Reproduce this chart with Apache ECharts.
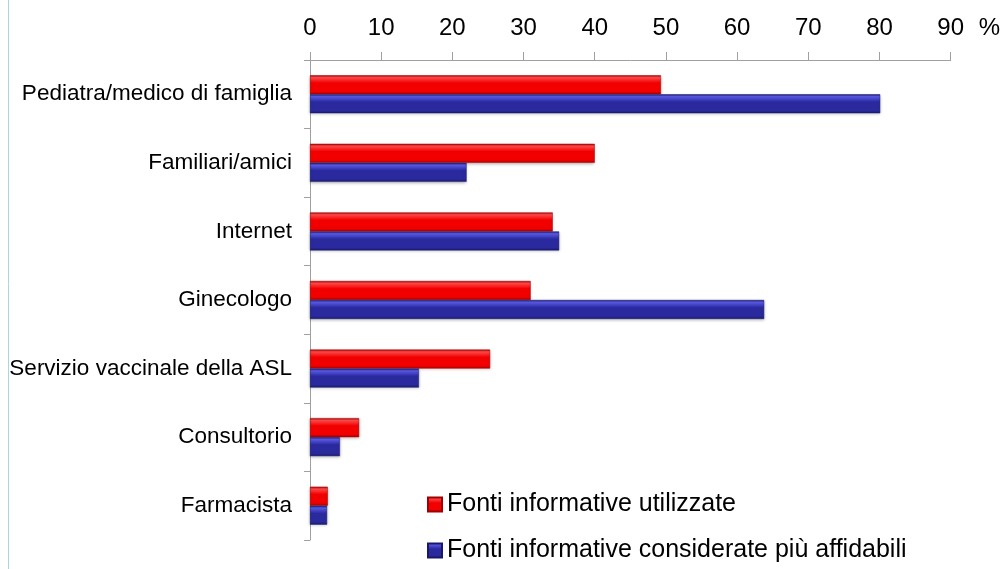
<!DOCTYPE html>
<html>
<head>
<meta charset="utf-8">
<script src="https://cdn.jsdelivr.net/npm/echarts@6/dist/echarts.min.js"></script>
<style>
  html, body { margin: 0; padding: 0; background: #fff; }
  #chart { width: 1003px; height: 569px; }
</style>
</head>
<body>
<div id="chart"></div>
<script>
// Fonti di informazione sulle vaccinazioni (%)
const categories = [
  'Pediatra/medico di famiglia',
  'Familiari/amici',
  'Internet',
  'Ginecologo',
  'Servizio vaccinale della ASL',
  'Consultorio',
  'Farmacista'
];
const utilizzate = [49.3, 40.0, 34.1, 31.0, 25.3, 6.9, 2.5];
const affidabili = [80.1, 22.0, 35.0, 63.8, 15.3, 4.2, 2.4];
const seriesNames = ['Fonti informative utilizzate', 'Fonti informative considerate più affidabili'];
const xTicks = [0, 10, 20, 30, 40, 50, 60, 70, 80, 90];

const FONT = 'Liberation Sans, Arial, sans-serif';

function barGradient(light, mid, dark) {
  return new echarts.graphic.LinearGradient(0, 0, 0, 1, [
    { offset: 0, color: dark },
    { offset: 0.12, color: light },
    { offset: 0.4, color: mid },
    { offset: 0.85, color: mid },
    { offset: 1, color: dark }
  ]);
}

const chart = echarts.init(document.getElementById('chart'));
chart.setOption({
  animation: false,
  backgroundColor: '#ffffff',
  grid: { left: 310, right: 52, top: 60, bottom: 29, containLabel: false },
  xAxis: {
    type: 'value',
    position: 'top',
    min: xTicks[0],
    max: xTicks[xTicks.length - 1],
    interval: 10,
    name: '%',
    nameLocation: 'end',
    nameGap: 28,
    nameTextStyle: { fontFamily: FONT, fontSize: 24, color: '#000', verticalAlign: 'bottom', padding: [0, 0, 20, 0] },
    axisLine: { show: true, lineStyle: { color: '#a0a0a0', width: 1 } },
    axisTick: { show: true, length: 8, lineStyle: { color: '#a0a0a0' } },
    axisLabel: { fontFamily: FONT, fontSize: 24, color: '#000', margin: 20 },
    splitLine: { show: false }
  },
  yAxis: {
    type: 'category',
    inverse: true,
    data: categories,
    axisLine: { show: true, lineStyle: { color: '#a0a0a0', width: 1 } },
    axisTick: { show: true, length: 6, lineStyle: { color: '#a0a0a0' } },
    axisLabel: { fontFamily: FONT, fontSize: 22.5, color: '#000', margin: 18 },
    splitLine: { show: false }
  },
  legend: {
    orient: 'vertical',
    left: 427,
    top: 492,
    padding: 0,
    itemWidth: 14,
    itemHeight: 14,
    itemGap: 21,
    icon: 'rect',
    textStyle: { fontFamily: FONT, fontSize: 25, color: '#000', padding: [0, 0, 0, 0] },
    data: seriesNames
  },
  series: [
    {
      name: seriesNames[0],
      type: 'bar',
      data: utilizzate,
      barWidth: 19,
      barGap: '0%',
      itemStyle: {
        color: barGradient('#ff4a4a', '#f20000', '#b00000'),
        borderColor: '#a00000',
        borderWidth: 0.5,
        shadowColor: 'rgba(0,0,0,0.25)',
        shadowBlur: 3,
        shadowOffsetY: 1
      }
    },
    {
      name: seriesNames[1],
      type: 'bar',
      data: affidabili,
      barWidth: 19,
      barGap: '0%',
      itemStyle: {
        color: barGradient('#5a5ae8', '#2a2a9e', '#1c1c70'),
        borderColor: '#18186a',
        borderWidth: 0.5,
        shadowColor: 'rgba(0,0,0,0.25)',
        shadowBlur: 3,
        shadowOffsetY: 1
      }
    }
  ],
  graphic: [
    {
      type: 'line',
      shape: { x1: 8.5, y1: 0, x2: 8.5, y2: 569 },
      style: { stroke: '#a9d6df', lineWidth: 1 }
    }
  ]
});
</script>
</body>
</html>
